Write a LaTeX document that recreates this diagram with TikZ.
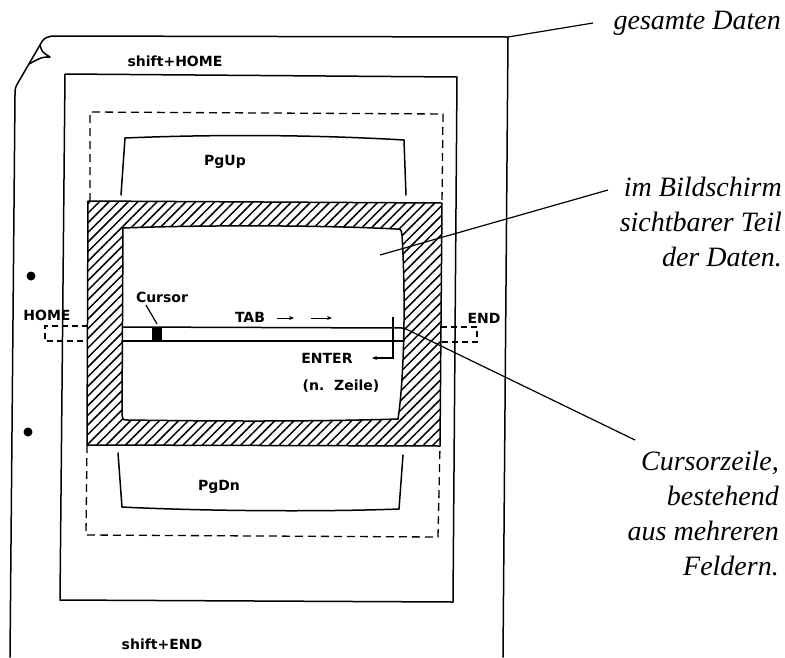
\documentclass[tikz,border=0pt]{standalone}
\usepackage{fontspec}
\newfontfamily\keyfont{DejaVu Sans}
\newfontfamily\notefont{Liberation Serif}
\usetikzlibrary{patterns.meta,arrows.meta}
\tikzset{
  ln/.style={line width=1.5pt, line join=round, line cap=round},
  thin ln/.style={line width=1.2pt},
  dsh/.style={line width=1.3pt, dash pattern=on 8pt off 5pt},
  keylbl/.style={font=\keyfont\bfseries\fontsize{14}{16}\selectfont, inner sep=0pt},
  note/.style={font=\notefont\itshape\fontsize{28}{35}\selectfont, align=right, anchor=east, inner sep=0pt},
  hatch/.style={pattern={Lines[angle=45,distance=6.8pt,line width=1.5pt]}},
}
\begin{document}
\begin{tikzpicture}[x=1pt,y=-1pt]
\useasboundingbox (0,0) rectangle (785,657);
% sheet of paper with curled corner
\draw[ln] (10,657) -- (15,95) .. controls (15,88) .. (19,81) -- (40,45) .. controls (44,38) .. (52,36) -- (508,37) -- (503,657);
\draw[ln] (40,45) .. controls (42,52) .. (50,57) .. controls (42,57) .. (29,64);
\fill (31,276) circle[radius=4.5pt];
\fill (28,432) circle[radius=4.5pt];
% outer solid frame
\draw[ln] (65,74) -- (457,77) -- (453,602) -- (60,600) -- cycle;
% dashed frame (above and below the screen)
\draw[dsh] (90,201) -- (90,112) -- (443,114) -- (442,203);
\draw[dsh] (87,445) -- (86,535) -- (438,537) -- (440,446);
% PgUp / PgDn screens
\draw[ln] (121,195) -- (125,138) .. controls (220,134) and (320,135) .. (404,140) -- (406,195);
\draw[ln] (118,453) -- (122,507) .. controls (200,511) and (320,512) .. (399,509) -- (403,455);
% hatched screen frame
\path[hatch, even odd rule] (88,201) -- (442,203) -- (440,446) -- (87,445) -- cycle
  (123,228) .. controls (200,225) and (320,225) .. (396,229) .. controls (401,229) .. (402,235)
  .. controls (406,300) and (404,380) .. (398,419) .. controls (300,422) and (200,421) .. (128,420)
  .. controls (123,420) .. (122,415) -- cycle;
\draw[ln] (88,201) -- (442,203) -- (440,446) -- (87,445) -- cycle;
\draw[ln] (123,228) .. controls (200,225) and (320,225) .. (396,229) .. controls (401,229) .. (402,235)
  .. controls (406,300) and (404,380) .. (398,419) .. controls (300,422) and (200,421) .. (128,420)
  .. controls (123,420) .. (122,415) -- cycle;
% cursor row
\draw[ln] (123,327) -- (404,328);
\draw[ln] (122,341) -- (404,341);
\draw[dsh, dash pattern=on 6pt off 4pt] (88,326) -- (45,326) -- (45,341) -- (88,341);
\draw[dsh, dash pattern=on 6pt off 4pt] (441,327) -- (477,327) -- (477,342) -- (441,342);
\fill (152,327) rectangle (162,341);
% labels
\node[keylbl] (shome) at (175,61) {shift+HOME};
\node[keylbl] (send) at (162,644) {shift+END};
\node[keylbl] (pgup) at (225,162) {PgUp};
\node[keylbl] (pgdn) at (219,487) {PgDn};
\node[keylbl] (home) at (47,315) {HOME};
\node[keylbl] (end) at (484,318) {END};
\node[keylbl] (cursor) at (162,297) {Cursor};
\node[keylbl] (tab) at (250,317) {TAB};
\node[keylbl] (enter) at (327,358) {ENTER};
\node[keylbl] (nzeile) at (341,386) {(n.\ \ Zeile)};
% cursor pointer
\coordinate (curA) at (146,305);
\coordinate (curB) at (157,324);
\draw[thin ln] (curA) -- (curB);
% TAB arrows
\coordinate (t1a) at (277,318); \coordinate (t1b) at (294,318);
\coordinate (t2a) at (311,318); \coordinate (t2b) at (332,318);
\draw[thin ln, line width=1pt, -{Stealth[length=5pt,width=4pt]}] (t1a) -- (t1b);
\draw[thin ln, line width=1pt, -{Stealth[length=5pt,width=4pt]}] (t2a) -- (t2b);
% ENTER arrow
\coordinate (entT) at (393,317);
\coordinate (entE) at (372,358);
\draw[thin ln, -{Stealth[length=5pt,width=4pt]}] (entT) |- (entE);
% notes
\node[note] (n1) at (781,23) {gesamte Daten};
\node[note] (n2) at (782,222) {im Bildschirm\\sichtbarer Teil\\der Daten.};
\node[note] (n3) at (779,513) {Cursorzeile,\\bestehend\\aus mehreren\\Feldern.};
% leader lines
\coordinate (pc) at (508,37); \coordinate (l1) at (593,23);
\coordinate (scr) at (380,255); \coordinate (l2) at (608,190);
\coordinate (row) at (404,328); \coordinate (l3) at (635,440);
\draw[thin ln] (pc) -- (l1);
\draw[thin ln] (scr) -- (l2);
\draw[thin ln] (row) -- (l3);
\end{tikzpicture}
\end{document}
